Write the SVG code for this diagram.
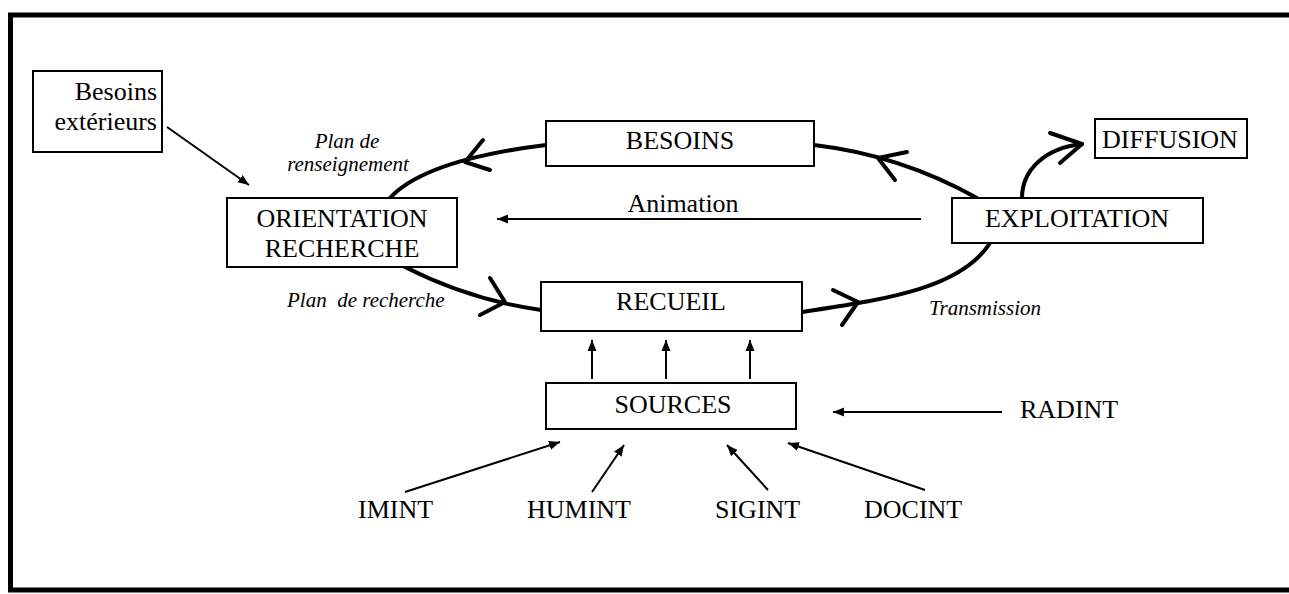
<svg xmlns="http://www.w3.org/2000/svg" width="1289" height="594" viewBox="0 0 1289 594">
  <defs>
    <style>
      .box { fill: #fff; stroke: #000; stroke-width: 2; }
      .lbl { font-family: "Liberation Serif", "Times New Roman", serif; font-size: 26px; fill: #000; }
      .it { font-family: "Liberation Serif", "Times New Roman", serif; font-size: 21px; font-style: italic; fill: #000; }
      .mid { text-anchor: middle; }
      .cycle { fill: none; stroke: #000; stroke-width: 4; stroke-linecap: round; stroke-linejoin: round; }
      .thin { fill: none; stroke: #000; stroke-width: 2; }
      .frame { fill: none; stroke: #000; stroke-width: 5; }
    </style>
    <marker id="head" markerUnits="userSpaceOnUse" markerWidth="12" markerHeight="10" refX="11" refY="5" orient="auto">
      <path d="M0,0.5 L11,5 L0,9.5 z" fill="#000"/>
    </marker>
  </defs>

  <rect width="1289" height="594" fill="#fff"/>

  <!-- page frame (open on the right) -->
  <path class="frame" d="M1289,15 L10.5,15 L10.5,590 L1289,590"/>

  <g id="connectors">
    <!-- intelligence cycle -->
    <path class="cycle" d="M546,145 Q425,160 390,198"/>
    <path class="cycle" d="M483,140 L465,162 L490,170"/>
    <path class="cycle" d="M814,145 Q900,155 977,198"/>
    <path class="cycle" d="M907,152 L878,158 L895,180"/>
    <path class="cycle" d="M405,267 Q470,300 541,310"/>
    <path class="cycle" d="M490,278 L505,302 L480,315"/>
    <path class="cycle" d="M802,312 C880,300 960,290 990,243"/>
    <path class="cycle" d="M833,290 L858,302 L842,325"/>
    <path class="cycle" d="M1022,198 C1022,170 1045,148 1082,144"/>
    <path class="cycle" d="M1050,133 L1082,144 L1060,163"/>

    <!-- thin arrows -->
    <line class="thin" x1="167" y1="127" x2="249" y2="185" marker-end="url(#head)"/>
    <line class="thin" x1="921" y1="219" x2="497" y2="219" marker-end="url(#head)"/>
    <line class="thin" x1="592" y1="379" x2="592" y2="340" marker-end="url(#head)"/>
    <line class="thin" x1="666" y1="379" x2="666" y2="340" marker-end="url(#head)"/>
    <line class="thin" x1="750" y1="379" x2="750" y2="340" marker-end="url(#head)"/>
    <line class="thin" x1="1002" y1="412" x2="833" y2="412" marker-end="url(#head)"/>
    <line class="thin" x1="405" y1="492" x2="560" y2="442" marker-end="url(#head)"/>
    <line class="thin" x1="592" y1="492" x2="624" y2="445" marker-end="url(#head)"/>
    <line class="thin" x1="768" y1="490" x2="727" y2="445" marker-end="url(#head)"/>
    <line class="thin" x1="925" y1="490" x2="788" y2="443" marker-end="url(#head)"/>
  </g>

  <g id="besoins-exterieurs">
    <rect class="box" x="33" y="71" width="129" height="81"/>
    <text class="lbl" x="157" y="100" text-anchor="end">Besoins</text>
    <text class="lbl" x="157" y="130" text-anchor="end">extérieurs</text>
  </g>

  <g id="orientation">
    <rect class="box" x="227" y="198" width="230" height="69"/>
    <text class="lbl mid" x="342" y="227">ORIENTATION</text>
    <text class="lbl mid" x="342" y="257">RECHERCHE</text>
  </g>

  <g id="besoins">
    <rect class="box" x="546" y="121" width="268" height="45"/>
    <text class="lbl mid" x="680" y="149">BESOINS</text>
  </g>

  <g id="recueil">
    <rect class="box" x="541" y="282" width="261" height="49"/>
    <text class="lbl mid" x="671" y="310">RECUEIL</text>
  </g>

  <g id="exploitation">
    <rect class="box" x="952" y="198" width="251" height="45"/>
    <text class="lbl mid" x="1077" y="227">EXPLOITATION</text>
  </g>

  <g id="diffusion">
    <rect class="box" x="1095" y="119" width="152" height="39"/>
    <text class="lbl mid" x="1170" y="148">DIFFUSION</text>
  </g>

  <g id="sources">
    <rect class="box" x="546" y="383" width="250" height="46"/>
    <text class="lbl mid" x="673" y="413">SOURCES</text>
  </g>

  <g id="labels">
    <text class="it mid" x="347" y="148">Plan de</text>
    <text class="it mid" x="348" y="171">renseignement</text>
    <text class="it" x="287" y="307" xml:space="preserve">Plan  de recherche</text>
    <text class="lbl mid" x="683" y="212">Animation</text>
    <text class="it" x="929" y="315">Transmission</text>
  </g>

  <g id="radint"><text class="lbl" x="1020" y="418">RADINT</text></g>
  <g id="imint"><text class="lbl" x="358" y="518">IMINT</text></g>
  <g id="humint"><text class="lbl" x="527" y="518">HUMINT</text></g>
  <g id="sigint"><text class="lbl" x="715" y="518">SIGINT</text></g>
  <g id="docint"><text class="lbl" x="864" y="518">DOCINT</text></g>
</svg>
